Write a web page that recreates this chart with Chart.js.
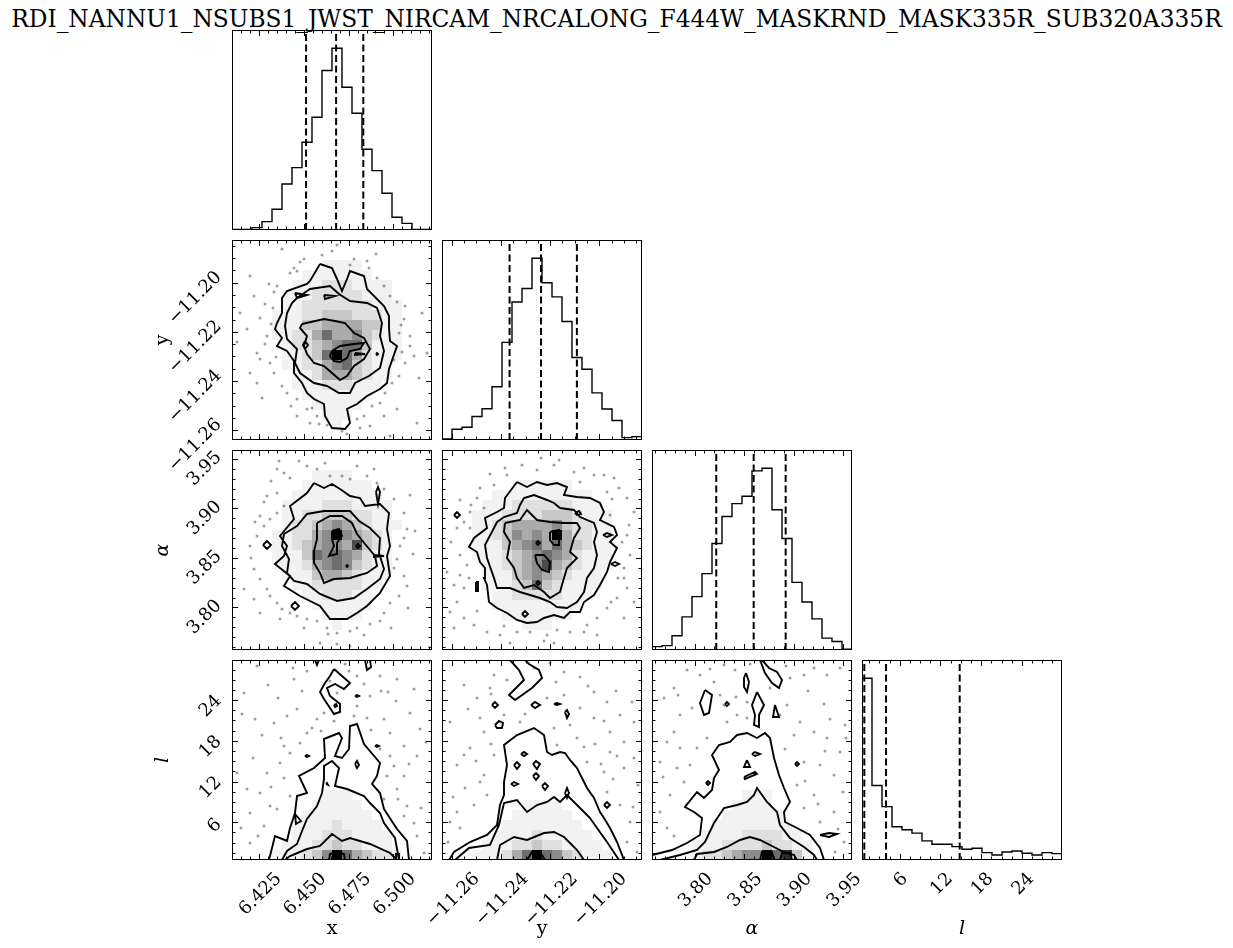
<!DOCTYPE html>
<html><head><meta charset="utf-8">
<script src="https://cdn.jsdelivr.net/npm/chart.js@4.4.1/dist/chart.umd.min.js"></script>
<style>
html,body{margin:0;padding:0;background:#fff;}
#wrap{position:relative;width:1233px;height:948px;overflow:hidden;background:#fff;}
#wrap canvas{position:absolute;left:0;top:0;}
#title{position:absolute;left:0;top:7px;width:1233px;text-align:center;font-family:"DejaVu Serif",serif;font-size:23.3px;line-height:23.3px;white-space:nowrap;color:#000;}
</style></head>
<body><div id="wrap"><div id="title">RDI_NANNU1_NSUBS1_JWST_NIRCAM_NRCALONG_F444W_MASKRND_MASK335R_SUB320A335R</div></div>
<script>
// ---------------- data ----------------
const RANGE_X = [6.4098, 6.5216];
const RANGE_Y = [-11.2640, -11.1826];
const RANGE_A = [3.757, 3.959];
const RANGE_L = [0.44, 29.9];

const TICKS_X = [6.425, 6.450, 6.475, 6.500];
const TICKS_Y = [-11.26, -11.24, -11.22, -11.20];
const TICKS_A = [3.80, 3.85, 3.90, 3.95];
const TICKS_L = [6, 12, 18, 24];
const TICKLABELS_X = ['6.425', '6.450', '6.475', '6.500'];
const TICKLABELS_Y = ['\u221211.26', '\u221211.24', '\u221211.22', '\u221211.20'];
const TICKLABELS_A = ['3.80', '3.85', '3.90', '3.95'];
const TICKLABELS_L = ['6', '12', '18', '24'];
const MINOR_X = 0.005, MINOR_Y = 0.005, MINOR_A = 0.01, MINOR_L = 1.5;
const TITLE_X = 'x', TITLE_Y = 'y', TITLE_A = '\u03b1', TITLE_L = 'l';

// 1D histograms (20 bins over the axis range)
const HIST_X = [2,2,7,25,62,138,187,263,338,478,545,428,350,242,178,110,38,20,2,2];
const HIST_Y = [3,32,38,70,93,158,290,410,450,540,467,425,352,245,210,140,92,58,7,10];
const HIST_A = [10,13,42,98,158,226,315,395,433,455,530,538,415,330,200,142,92,35,25,2];
const HIST_L = [542,222,159,99,90,80,57,47,47,40,32,35,22,15,24,27,20,15,22,19];

// 16/50/84 % quantiles
const Q_X = [6.4512, 6.4680, 6.4832];
const Q_Y = [-11.2365, -11.2237, -11.2091];
const Q_A = [3.8219, 3.8597, 3.8920];
const Q_L = [0.78, 3.98, 14.83];

// 2D histogram darkness (0-9), 20x20 bins, top row first
const Z = "00000000000000000000";
const DENS_XY = [Z,Z,
"00000000011110000000","00000001111111000000","00000011122211110000","00000111222221110000",
"00000112222222111000","00001112233322211000","00001113344443311000","00001122464453211000",
"00000122345663111000","00000112369642111000","00000112245632110000","00000011244432110000",
"00000011122211100000","00000001111111000000","00000000111110000000","00000000011100000000",
"00000000001000000000",Z];
const DENS_XA = [Z,Z,
"00000000111100000000","00000001111111000000","00000011111111100000","00000111122211110000",
"00000112233322110000","00000122345432111000","00001122459543210000","00001123455473210000",
"00001113656542110000","00001112456532110000","00000111344321110000","00000011222221100000",
"00000001122211000000","00000000111111000000","00000000011110000000","00000000001000000000",Z,Z];
const DENS_YA = [Z,Z,Z,
"00000001111110000000","00000111111111100000","00001112222221110000","00011122223332111000",
"00011234444532211000","00011235454942211000","00011134564643211000","00011123456542111000",
"00001123457432111000","00001113454321110000","00001112363211110000","00000112222211100000",
"00000111111111000000","00000011111110000000","00000000111000000000",Z,Z];
const DENS_XL = [Z,Z,Z,Z,Z,Z,Z,Z,Z,Z,Z,Z,Z,
"00000000011100000000","00000000111110000000","00000001111111000000","00000011112111100000",
"00000011122211110000","00000111223221110000","00001112359643221000"];
const DENS_YL = [Z,Z,Z,Z,Z,Z,Z,Z,Z,Z,Z,Z,Z,Z,
"00000000111100000000","00000001111110000000","00000011111111000000","00000111121111100000",
"00001112232211110000","00011124696532111000"];
const DENS_AL = [Z,Z,Z,Z,Z,Z,Z,Z,Z,Z,Z,Z,Z,
"00000000011100000000","00000000111100000000","00000001111110000000","00000011111111000000",
"00000111122221100000","00001112222322110000","00001223455968310000"];

// contours, in bin units (0-20) of each panel's 20x20 grid: [u,v,u,v,...]; first = outermost
const CNT_XY = [
 [8.8,17.6,10,17.2,10.5,16.1,11,14.9,11.5,16.1,11.8,16.9,13.2,16.4,13.5,15.1,15.2,13.4,15.7,12.4,15.7,11.2,15.8,9.9,16.5,9.4,15.7,7.1,15.5,5.7,14.8,5.1,13.5,4.4,12.5,3.6,11.5,3.1,11.8,1.7,11.3,1.1,10,1.2,9.3,2.4,9.2,3.6,8.2,4.1,7.5,4.7,7,5.7,6.2,6.7,6.2,7.9,5.5,8.9,4.5,9.4,5,10.2,4.3,11.1,4.5,11.7,5,12.7,5,14.2,5.5,14.9,7.5,15.6,7.8,15.9],
 [6.5,14.2,7.8,15.1,9.8,15.4,10.7,14.6,11.8,13.9,13.5,13.7,14.5,13.2,15,11.7,14.8,10.4,15.2,8.9,14.8,7.2,13.7,6.4,12.3,5.7,11.8,4.7,10.7,4.7,9.5,5.4,8.2,5.7,6.8,6.7,6.3,7.7,6.5,9.1,5.5,10.1,5.3,11.4,5.5,12.7,6,13.7],
 [7,11.6,9.2,12.1,10.3,11.9,11.3,11.7,12.2,10.7,13.2,10.2,13.8,9.1,13.2,8.1,12.2,7.4,11.5,6.4,10.8,6,10,6.7,9.2,7.4,8.2,7.7,7.5,8.6,7.2,9.4,7.5,10.4,6.8,11.2],
 [10,8.9,10.8,9.4,12.2,9.6,13.2,9.7,12.8,9.1,11.8,8.9,11.5,8.2,10.8,7.8,10.2,7.9,9.8,8.4],
 [6.3,14.7,7.5,14.5,6.5,14.2],
 [9.2,14.5,10.3,14.4,9.3,14.1],
 [7.3,9.9,7.6,9.5,7.3,9.1,7.1,9.5],
 [12.3,8.7,13.3,8.6,12.3,8.5],
 [14.4,8.6,14.5,8.7,14.6,8.6,14.5,8.5]
];
const CNT_XA = [
 [8.2,16.7,9.2,16.2,10,16.6,10.8,16.1,11.8,15.4,12.8,15.2,13.3,14.4,14.8,14.6,15.7,13.7,15.5,12.1,15.8,10.4,15.5,9.4,15.8,7.4,14.8,5.7,13.5,4.4,12.5,3.7,11.5,3.1,9.8,3.1,8.8,4.4,6.8,5.4,5.2,6.4,5.8,7.4,4.3,8.6,5.2,9.4,5.5,10.4,4.8,11.4,6.2,13.1,5.8,14.4,7.5,15.7],
 [5.2,11.6,6.5,12.4,7.5,13.6,9.2,13.9,11.8,13.9,12.7,12.9,13.8,12.2,14.8,11.2,14.7,9.7,15.2,8.1,14.8,7.1,13.5,6.1,12.2,5.2,10.5,4.9,8.8,5.6,7.5,6.6,6.2,6.9,5.5,7.7,5.7,9.1,5,10.4],
 [8.5,12.7,9.8,13.4,11,13.4,12,12.7,12.5,11.6,13.3,10.6,14.3,9.4,14.5,8.4,13.5,7.7,11.8,7.2,10.2,7.1,9.2,6.7,8.8,7.7,8.2,8.7,8.2,9.9,8.5,11.1],
 [10,11.9,10.7,12.1,11,11.4,10.5,10.7,10.5,9.6,9.7,9.4,10.2,10.4,10,11.1],
 [3.1,10.5,3.5,10.9,3.9,10.5,3.5,10.1],
 [5.9,4.4,6.3,4.8,6.7,4.4,6.3,4],
 [14.4,15.8,14.6,16.3,14.8,15.8,14.6,14.6],
 [12.4,10.4,12.6,10.6,12.8,10.4,12.6,10.2],
 [14.2,9.5,15.2,9.4,14.2,9.3],
 [11.4,8.4,11.5,8.5,11.6,8.4,11.5,8.3]
];
const CNT_YA = [
 [7.5,16.8,8.5,16.3,9.5,16.8,10.5,16.5,11.5,16.7,12.5,16.3,12.2,15.5,13.5,15.3,14.8,15.2,15.8,14.7,16.2,13.8,15.8,13,17.2,12.3,17.5,11.5,16.8,10.8,17.5,10.2,16.8,8.8,16.5,7.8,15.8,6.5,15.2,5.5,14.2,4.8,13.8,3.8,12.8,3.8,12.2,3.2,11.2,3.5,10.2,3.2,9.5,2.8,8.5,2.7,7.5,3,6.5,3.7,5.5,4.2,4.7,4.8,4.5,6.5,4.2,7.2,4.3,8.2,3.8,8.8,3.5,9.8,2.7,10.3,3.2,11.2,4.5,12.2,4.3,13.2,5.5,13.8,6.2,14.2,6.3,15.2],
 [5.5,12.8,6.2,13.3,7.5,13.7,7.8,14.5,8.2,15.2,9.2,15.5,10.5,15,11.2,14.7,11.8,14.2,13.2,14,13.8,13.3,15.2,12.7,15.5,11.8,15.2,10.8,15.5,9.5,15.2,8.2,14.5,7.2,14.2,5.8,13.5,4.8,12.5,4.2,11.5,4.3,10.8,4.8,9.8,5.2,7.8,5.8,6.8,6.2,5.5,6.2,5.2,7.2,4.5,9.2,4.3,10.5,5.2,12.2],
 [6.3,12.7,7.8,13,8.5,14,9.5,13,10.8,12.8,12.2,12.7,13.5,12.7,13.8,12.2,13.2,11.2,12.8,9.8,13.5,9.2,12.5,8.2,12.2,7.2,11.8,5.8,10.8,5.2,10.2,5.8,9.2,6.5,8.2,6.2,7.5,7.2,7.2,8.2,6.5,9.2,6.8,10.8,6.2,11.8],
 [10.8,11.8,11.7,12,11.7,10.5,11.2,10.5,10.8,11],
 [9.3,9.5,10.2,9.5,10.8,8.8,10.7,7.8,10,8,9.5,8.7],
 [1.2,13.5,1.5,13.8,1.8,13.5,1.5,13.2],
 [13.3,13.7,13.7,13.9,13.9,13.6,13.5,13.5],
 [16.1,11.5,16.5,11.7,17,11.5,16.5,11.3],
 [16.9,8.6,17.3,8.8,17.7,8.6,17.3,8.4],
 [3.4,6.8,3.6,6.8,3.6,5.9,3.4,5.9],
 [8,3.6,8.3,3.9,8.6,3.6,8.3,3.3],
 [9.4,10.7,9.6,10.9,9.8,10.7,9.6,10.5],
 [9.4,6.7,9.6,6.9,9.8,6.7,9.6,6.5]
];
const CNT_XL = [
 [3.7,0,4.3,2.4,5.5,1.9,5.8,3.2,6.3,4.7,6.5,6.4,7.5,6.7,6.7,8.4,8.2,9.2,9.3,10.2,9.2,12.1,10.7,12.7,11,12.2,10.3,10.4,11,10.2,11.7,11.1,11.8,13.4,12.5,13.6,13.2,11.6,14.8,9.7,14.5,8.4,14,7.6,14.8,6.7,15.2,5.1,16.5,3.1,17.5,1.9,17.7,0],
 [5,0,5.5,0.9,6.5,1.6,7,2.9,7.5,4.1,8.5,5.4,9,6.7,9.2,8.1,9.2,9.4,10,9.9,10.7,9.2,10.3,7.4,11.5,7.1,13.2,6.4,13.8,5.7,14.8,4.7,15.2,3.7,16.3,2.2,16.7,0],
 [5.3,0,5.8,0.4,7.5,1.1,8.8,1.4,10,2.6,11,1.9,11.8,2.2,13.8,1.6,15.8,0.7,16.5,0],
 [9.7,0,9.8,0.6,10.5,0.8,11.2,0.6,11.3,0],
 [10.2,19.1,11.8,17.7,11.2,17.1,10.3,17.6,9.5,17.2,9.8,16.4,10.8,15.6,10.8,14.8,10.2,14.6,9.2,16.1,8.8,16.8,9.3,17.7,9.8,18.4],
 [8.3,20,8.5,19.5,8.7,20],
 [13.3,20,13.5,19,13.9,19.3,13.8,20],
 [10.2,15.5,10.4,15.6,10.5,15.4,10.3,15.3],
 [9.4,7.6,9.5,7.7,9.6,7.5],
 [12.3,9.6,12.5,9.9,12.7,9.5,12.5,9.2],
 [14.3,11.4,14.5,11.5,14.7,11.4,14.5,11.3],
 [7.3,10.4,7.5,10.5,7.7,10.4,7.5,10.3],
 [12.3,16.4,12.5,16.5,12.7,16.4,12.5,16.3],
 [6.3,4.6,6.9,3.9,6.4,3.6],
 [16.4,0,16.4,0.6,16.7,0.6,16.7,0]
];
const CNT_YL = [
 [0.7,0,1.2,0.8,2.8,1.8,4.5,2.5,5.5,3.5,5.8,5.5,6.2,6.5,6.2,7.8,6.5,9.5,6.2,11.5,7.5,12.5,9.2,13.2,10.2,12.5,10.5,10.8,11,10.5,11.8,10.8,12.3,10.7,12.8,10,13.5,9.2,14.2,7.8,14.5,7.2,15.2,6.2,15.8,4.8,16.2,4.2,16.8,3.2,17.5,1.8,18.2,0],
 [1.3,0,2.7,1.2,4.8,1.5,5.7,3.5,6.2,5.7,7.5,6,8.5,4.8,9.5,5.5,10.5,5.8,11.2,6.3,11.8,5.8,12.5,6.5,13.5,5.5,14.2,4.8,14.8,4.2,15.5,3.2,16.5,1.8,17.7,0],
 [5.5,0,5.8,1.5,7.2,2.3,8.5,2,10.2,2.7,11.2,2.8,12.2,2.3,12.8,1.7,13.5,1,14.2,0],
 [8.5,0,9,0.8,9.8,0.8,10.3,0],
 [6.8,20,7.7,19,8.2,18,6.7,16.5,7.3,16,9,17.2,10,18.2,9.7,19,8.7,19.6,8.3,20],
 [5,15.5,5.3,15.8,5.6,15.5,5.3,15.2],
 [8.9,15.5,9.3,15.8,9.8,15.5,9.3,15.2],
 [11.2,15.6,11.5,15.7,11.8,15.6,11.5,15.5],
 [12.3,14.8,12.5,15,12.7,14.6,12.5,14.2],
 [5.3,13.5,5.7,13.9,6.1,13.7,6,13.2,5.5,13.2],
 [7.9,10.6,8.2,10.8,8.5,10.6,8.2,10.4],
 [7.2,9.5,7.5,9.8,7.8,9.5,7.5,9.1],
 [9.1,9.6,9.4,9.9,9.8,9.6,9.5,9.1],
 [9.1,8.4,9.4,8.7,9.7,8.4,9.4,8],
 [6.9,7.6,7.2,7.8,7.6,7.6,7.2,7.4],
 [10,7.4,10.3,7.7,10.6,7.4,10.3,7],
 [12.3,6.7,12.5,7.2,12.7,6.7,12.5,6.2],
 [16.2,5.5,16.5,5.8,16.8,5.5,16.5,5.2]
];
const CNT_AL = [
 [0,0.5,2,1,3.5,1.7,4.8,2.5,5,4.2,4.2,4.8,3.3,5.3,4.5,6.8,5.2,6.2,6,7,6.2,8.2,6.7,9,6,10.5,6.7,11.5,7.8,11.8,8.5,12.5,9.5,12.7,10.5,12.2,11.3,12.7,11.8,12.2,12.2,10.2,12.7,8.5,13.2,7.2,13.8,5.8,13.2,4.8,13.3,3.8,14.3,3.3,15.8,2.5,16.8,1.2,17.2,0],
 [0.8,0,2.8,0.5,4.5,1,5.3,1.8,6.2,3.7,7.2,5.2,8.5,5.5,9.5,5.8,10.2,6.5,10.5,7.2,11.5,5.8,12.5,4.8,12.8,3.5,13.8,2.2,15.2,1.3,16.2,0.5,16.5,0],
 [4.2,0,4.5,0.6,6.2,0.8,7.5,1.3,8.8,2,9.8,2.3,10.8,2,11.8,1.5,13.2,0.8,14.2,0.5,14.5,0],
 [10.8,0,11,0.8,12,0.8,12.2,0],
 [12.8,0,13,0.7,13.8,0.7,14,0],
 [5.3,17,6,16.5,5.7,14.7,5.2,14.5,4.8,15.7],
 [9.4,18.7,9.7,17.8,9.5,16.8,9.2,17.3,9.2,18.2],
 [10.5,16.8,11.2,15.5,10.7,14.5,10.7,13.3,10.2,13.5,10.3,14.5,10,15.5],
 [11,20,11.7,19.2,12.5,18.8,13,18,12.7,17.2,12,17.7,11.3,18.7,10.8,20],
 [12.3,15.5,12.7,14.3,12.1,14.3],
 [9.5,10,9.8,9.3,9.2,9.3],
 [10,10.6,10.3,10.8,10.8,10.6,10.3,10.4],
 [9.2,8.3,10.3,8.8,10.5,8.6,9.3,8.1],
 [16.8,2.5,17.7,2.7,18.5,2.6,17.7,2.3],
 [7.3,15.6,7.5,15.8,7.7,15.6,7.5,15.4],
 [5.4,7.7,5.6,7.9,5.8,7.7,5.6,7.5],
 [14.3,9.6,14.5,9.8,14.7,9.6,14.5,9.4]
];

// individual samples outside the contours, bin units [u,v,...]
const PTS_XY = [5,19.1,10,18.9,7.2,18.1,6.2,17.2,6.5,16.9,5.8,16.7,12.2,18.1,13.7,17.2,13.5,17.9,3.7,15.6,4.5,15.4,3.3,13.6,2.8,12.2,1.5,11.1,3.5,10.4,3.3,9.6,2.5,8.7,2.8,8.1,0.8,12.7,3.8,7.7,4.2,6.7,5,5.4,5.5,4.7,6.5,4.1,7.5,3.1,8.5,2.4,8.7,1.6,11,0.9,11.5,0.6,12.5,2.1,13.2,2.4,14,3.4,14.8,3.7,15.3,4.7,16,5.7,16.7,6.4,17.3,7.7,18.2,8.4,19.5,8.7,17.8,9.4,17.3,13.4,17.2,12.1,17.8,10.4,16.7,10.7,15.2,15.4,15.8,14.4,12.2,16.4,1.8,16.4,16.5,3.1,18.5,1.7,15.8,0.4,13.8,1.4,7.8,1.7,6.5,2.4,2.5,5.7,1.8,6.7,4.2,14.8,6.8,17.8,9,18.5,11.8,17.5,14.5,16.2,16.5,13.8,16.9,11.5,17,8.8,16.2,8,15.2,2.4,12.8,1.2,9.5,1.5,8,3.2,5.9,3.4,4.4,8.3,3.9,11.6,4.1,13.2,2.2,14.4,19,12.7,18.7,6.2,3,4.2,10.5,19.5,14.4,18.6,0.5,9.8];
const PTS_XA = [4.7,18.9,4.5,18.1,5.2,17.7,5.8,17.2,7.5,18.4,8.5,18.1,9.8,17.4,11,17.4,11.8,17.1,12.5,18.4,13.5,17.4,14.5,16.7,15.2,16.1,16.2,15.1,17.2,13.7,17.5,12.1,17.2,11.2,16.8,10.4,16.5,9.1,16.2,8.2,17.2,7.4,17.5,6.4,16.7,5.4,15.8,4.7,15.2,3.7,14.8,2.9,13.8,2.6,12.5,2.2,11.8,1.9,10.5,1.7,9.5,2.2,8.5,2.9,7.5,3.1,6.5,3.4,5.8,3.7,5,4.1,4.5,4.7,3.8,5.4,3.5,6.1,2.8,7.1,2.2,8.1,1.8,10.4,2.5,11.4,3.2,12.4,3.8,13.1,4.5,13.7,5.2,14.4,4.5,15.7,3.5,15.4,2.8,13.4,1.2,6.1,2.8,3.7,11.8,0.4,10.5,0.6,8.8,0.7,3.9,16.9,6.7,18.9,9.3,18.7,14.2,18.1,17.8,15.5,18.3,11.9,18.1,9.6,17.6,4.2,15.9,2.2,13.2,1.5,9.6,1.6,7.2,2.2,4.8,3.1,2.2,5.1,1.9,9.2,2.3,12.8,3.2,14.8];
const PTS_YA = [6.3,18.2,6.5,17.5,8,18.5,9.5,18,11.2,18.5,11.7,19,13.2,17.8,14.2,18.2,15.2,17.5,16.2,17.5,17.2,17.2,17.7,16.2,18.5,15.2,19.2,13.8,18.7,12.5,18.8,9.5,18.2,8.2,18.2,7.2,18.5,6.2,17.5,5.2,16.5,4.2,15.5,3.2,14.5,2.5,12.8,1.8,11.5,2,10.5,1.5,8.8,1.8,7.5,1.8,5.8,1.5,4.5,1.8,3.2,2.5,2.2,3.2,1.2,2.2,0.8,3.8,1.5,4.8,2.2,6.2,2.7,7.2,2.5,8.5,1.8,9.5,2.8,12.2,2.2,12.8,1.5,12.2,1.8,15,3.5,15.2,3.8,16.2,5.2,16.5,2.8,13.8,4.2,14.2,16.5,15.8,16.8,13.5,18,10.8,1.2,6.5,0.5,7.8,19.2,4.8,18.2,3.2,15.5,1.5,6.8,0.7,11.2,0.7,4.8,17.6,9.9,19.2,13.8,16.8,17,15.1,18.5,11.5,17.6,7.2,16.9,4.8,14.2,1.8,10.2,0.9,6.2,2.4,3.5,3.9,1.8,7.5,0.9,10.8,2.9,14.5];
const PTS_XL = [2.5,19.4,6.2,18.1,7.5,18.9,8.5,19.6,11.3,19.6,12.5,18.4,14.8,18.4,16.5,18.1,18.2,17.1,1.2,16.7,2.3,14.1,4.2,13.7,5.5,14.4,6.5,15.1,7.5,12.7,8.5,14.1,9.2,14.7,12.5,15.4,13.5,14.2,15.2,14.1,15.8,12.7,17.2,11.4,18.5,10.4,16.2,9.4,15.5,8.4,16.5,7.1,17.5,5.4,18.2,3.7,18.5,2.4,19.2,0.7,3.5,8.7,4.8,9.7,5.8,10.7,6.8,11.7,7.5,10.4,2.8,6.7,3.8,5.4,3.2,3.4,1.8,1.7,5.2,11.4,13.8,16.4,10.5,16.7,12.2,14.4,10.2,13.9,14.8,11.1,13.5,10.1,17.2,8.4,15.8,10.4,5.8,6.4,4.5,5.1,1.8,4.7,1.5,7.1,0.5,8.7,17.8,14.7,18.8,13.1,15.2,6.1,17.2,4.4,3.6,17.5,9.8,17.9,15.6,16.8,4.9,12.2,8,13.2,13.2,17.6,3,12.5,4.6,16.2,7,16.9,8.9,12.9,12,12,13.9,13,16.4,15.9,17.7,9.6,16.6,6.1,18.9,5.2,1,14.6,2.1,10.2,3.9,7.3,0.9,3.2,2.6,2.4,19.4,11.8,14.9,16.9,11.7,18.9,6.1,19.2,5.2,8.2];
const PTS_YL = [2.2,17.5,5.2,18.5,6.5,18,9.2,19.2,10.8,19.7,12.2,18.8,13.8,18.3,15.2,16.8,16.5,15.8,17.8,14.5,19.2,13.8,18.2,11.8,16.8,10.8,19.2,10.2,18.2,9.2,16.2,8.8,14.5,9.8,13.5,12.2,12.8,13.5,11.2,13.2,3.8,14.2,4.2,12.8,2.8,11.2,2.2,10.5,1.5,9.5,3.8,7.8,4.5,6.5,3.2,5.5,1.5,4.8,0.8,3.8,1.8,3.2,4.2,8.5,5.2,10.5,15.2,14.2,16.5,6.8,17.8,5.5,18.8,3.8,19.5,0.8,18.5,1.8,16.8,12.8,12.2,16.5,13.8,15.2,6.2,14.5,7.8,13.8,3.5,16.2,0.8,13.8,11.5,11.5,10.8,9.5,14.2,11.3,4.8,17.2,2.6,15.1,4.9,16.6,8.3,14.6,10.5,16.2,14.6,17.4,17.4,16.9,19,15.8,17.5,10.4,15.3,11.6,19.6,7.5,17.1,8.1,15.9,9.6,2.3,7.2,3.4,9.9,1.1,6.3,4.9,11.6,0.6,1.8,19.1,5.3,16.2,13.9,11.4,17.8];
const PTS_AL = [3.5,19,4.8,18.5,6.2,17.8,7.2,19.5,8.3,19,13.8,18.2,15.2,18.5,16.2,19.2,17.5,18.5,18.8,19.2,2.8,14.5,4,15.2,7.2,15.5,7.5,13.8,8.5,14.5,9.5,15.8,13.5,15.5,14.8,13.8,16.2,12.8,17.5,12.2,18.8,10.8,15.2,9.8,16.8,9.5,18.2,8.5,14.5,7.5,16.2,6.5,18.2,4.8,16.8,3.8,15.2,5.2,2.2,12.8,1.5,11.8,0.8,9.8,2.5,9.2,3.2,7.8,1.8,6.5,0.8,4.8,1.5,3.2,3.8,9.5,4.5,11.2,5.5,12.2,5.5,7.7,19.2,1.8,18.3,0.8,9.5,14.2,14.2,12.5,12.8,14.5,2.2,17.2,11.8,17.2,6.8,16.5,17.2,15.6,19.3,13.5,1.2,16.2,2.6,16.5,5.8,19.1,9.8,19.6,13.4,19.4,15.6,16.9,17.8,14.1,19.4,12.2,17.3,10.9,19.1,6.8,16.6,5.6,15.3,7.9,13.3,11.1,2.8,11.2,1.1,8.3,3.5,5.6,2.2,2.4,8.4,16.3,11.1,11.4,7.6,10.2,18.6,3.1];

// ---------------- rendering ----------------
const W = 1233, H = 948;
const PANEL_LEFT = [232, 442, 652, 862];
const PANEL_TOP = [30, 240, 450, 660];
const PANEL_SIZE = 200;
const FONT_FAMILY = '"DejaVu Serif", serif';
const TICK_FONT_PX = 18;
const LEVEL_ALPHA = [0, 0.05, 0.12, 0.22, 0.33, 0.45, 0.57, 0.70, 0.82, 1.0];

const AXES = {
  x: {range: RANGE_X, ticks: TICKS_X, labels: TICKLABELS_X, minor: MINOR_X, title: TITLE_X, italic: false, hist: HIST_X, q: Q_X},
  y: {range: RANGE_Y, ticks: TICKS_Y, labels: TICKLABELS_Y, minor: MINOR_Y, title: TITLE_Y, italic: false, hist: HIST_Y, q: Q_Y},
  a: {range: RANGE_A, ticks: TICKS_A, labels: TICKLABELS_A, minor: MINOR_A, title: TITLE_A, italic: true, hist: HIST_A, q: Q_A},
  l: {range: RANGE_L, ticks: TICKS_L, labels: TICKLABELS_L, minor: MINOR_L, title: TITLE_L, italic: true, hist: HIST_L, q: Q_L}
};
const VARS = ['x', 'y', 'a', 'l'];
const PANEL2D = {
  '1,0': {dens: DENS_XY, cnt: CNT_XY, pts: PTS_XY},
  '2,0': {dens: DENS_XA, cnt: CNT_XA, pts: PTS_XA},
  '2,1': {dens: DENS_YA, cnt: CNT_YA, pts: PTS_YA},
  '3,0': {dens: DENS_XL, cnt: CNT_XL, pts: PTS_XL},
  '3,1': {dens: DENS_YL, cnt: CNT_YL, pts: PTS_YL},
  '3,2': {dens: DENS_AL, cnt: CNT_AL, pts: PTS_AL}
};

function gridToData(u, r) { return r[0] + u * (r[1] - r[0]) / 20; }
function onEdge(u, v) { return u <= 0 || u >= 20 || v <= 0 || v >= 20; }
function loopPoints(loop, rx, ry) {
  const pts = [];
  for (let k = 0; k < loop.length; k += 2) pts.push({x: gridToData(loop[k], rx), y: gridToData(loop[k + 1], ry)});
  const n = loop.length;
  if (!(onEdge(loop[0], loop[1]) && onEdge(loop[n - 2], loop[n - 1]))) pts.push({x: pts[0].x, y: pts[0].y});
  return pts;
}
function contourData(loops, rx, ry) {
  const out = [];
  loops.forEach((lp, i) => { if (i) out.push({x: null, y: null}); out.push(...loopPoints(lp, rx, ry)); });
  return out;
}
function cellData(rows, rx, ry) {
  const out = [];
  rows.forEach((row, r) => {
    for (let c = 0; c < row.length; c++) {
      const d = +row[c];
      if (d > 0) out.push({x: gridToData(c + 0.5, rx), y: gridToData(19.5 - r, ry), d: d});
    }
  });
  return out;
}
function ptsData(arr, rx, ry) {
  const out = [];
  for (let k = 0; k < arr.length; k += 2) out.push({x: gridToData(arr[k], rx), y: gridToData(arr[k + 1], ry)});
  return out;
}
function histData(counts, r) {
  const n = counts.length, step = (r[1] - r[0]) / n;
  const pts = counts.map((c, i) => ({x: r[0] + i * step, y: c}));
  pts.push({x: r[1], y: counts[n - 1]});
  return pts;
}
function tickList(ax) {
  const out = ax.ticks.map(v => [v, true]);
  const r = ax.range, m = ax.minor;
  const k0 = Math.ceil(r[0] / m - 1e-6), k1 = Math.floor(r[1] / m + 1e-6);
  for (let k = k0; k <= k1; k++) {
    const v = k * m;
    if (!ax.ticks.some(t => Math.abs(t - v) < m * 0.01)) out.push([v, false]);
  }
  return out;
}

Chart.register({
  id: 'whiteFill',
  beforeDatasetDraw(chart, args) {
    const ds = chart.data.datasets[args.index];
    if (!ds.whiteFill) return;
    const ctx = chart.ctx, a = chart.chartArea;
    ctx.save();
    ctx.beginPath(); ctx.rect(a.left, a.top, a.right - a.left, a.bottom - a.top); ctx.clip();
    ctx.beginPath();
    let first = true;
    for (const el of args.meta.data) {
      if (el.skip) { ctx.closePath(); first = true; continue; }
      if (first) { ctx.moveTo(el.x, el.y); first = false; } else ctx.lineTo(el.x, el.y);
    }
    ctx.closePath();
    ctx.fillStyle = '#ffffff';
    ctx.fill();
    ctx.restore();
  }
});

function framePlugin(row, col, isHist) {
  return {
    id: 'frame',
    afterDraw(chart) {
      const ctx = chart.ctx, a = chart.chartArea, sx = chart.scales.x, sy = chart.scales.y;
      const xa = AXES[VARS[col]], ya = AXES[VARS[row]];
      ctx.save();
      ctx.strokeStyle = '#000'; ctx.lineWidth = 1;
      ctx.strokeRect(a.left + 0.5, a.top + 0.5, a.right - a.left - 1, a.bottom - a.top - 1);
      tickList(xa).forEach(([v, major]) => {
        const p = Math.round(sx.getPixelForValue(v)) + 0.5, len = major ? 6 : 3.5;
        ctx.beginPath();
        ctx.moveTo(p, a.bottom); ctx.lineTo(p, a.bottom - len);
        ctx.moveTo(p, a.top); ctx.lineTo(p, a.top + len);
        ctx.stroke();
      });
      if (!isHist) {
        tickList(ya).forEach(([v, major]) => {
          const p = Math.round(sy.getPixelForValue(v)) + 0.5, len = major ? 6 : 3.5;
          ctx.beginPath();
          ctx.moveTo(a.left, p); ctx.lineTo(a.left + len, p);
          ctx.moveTo(a.right, p); ctx.lineTo(a.right - len, p);
          ctx.stroke();
        });
      }
      ctx.fillStyle = '#000';
      const fs = TICK_FONT_PX, h = fs * 0.73;
      ctx.font = fs + 'px ' + FONT_FAMILY;
      const rot = (t, cx, cy) => {
        ctx.save(); ctx.translate(cx, cy); ctx.rotate(-Math.PI / 4);
        ctx.textAlign = 'center'; ctx.textBaseline = 'alphabetic';
        ctx.fillText(t, 0, h / 2); ctx.restore();
      };
      if (row === 3) {
        xa.ticks.forEach((v, k) => {
          const t = xa.labels[k], w = ctx.measureText(t).width, bb = (w + h) * Math.SQRT1_2;
          rot(t, sx.getPixelForValue(v), a.bottom + 10 + bb / 2);
        });
        ctx.save();
        ctx.font = (xa.italic ? 'italic ' : '') + '19px ' + FONT_FAMILY;
        ctx.textAlign = 'center'; ctx.textBaseline = 'middle';
        ctx.fillText(xa.title, (a.left + a.right) / 2, 929);
        ctx.restore();
      }
      if (col === 0 && row > 0) {
        ya.ticks.forEach((v, k) => {
          const t = ya.labels[k], w = ctx.measureText(t).width, bb = (w + h) * Math.SQRT1_2;
          rot(t, a.left - 10 - bb / 2, sy.getPixelForValue(v) + 0.21 * w);
        });
        ctx.save();
        ctx.font = (ya.italic ? 'italic ' : '') + '19px ' + FONT_FAMILY;
        ctx.translate(163, (a.top + a.bottom) / 2); ctx.rotate(-Math.PI / 2);
        ctx.textAlign = 'center'; ctx.textBaseline = 'middle';
        ctx.fillText(ya.title, 0, 0);
        ctx.restore();
      }
      ctx.restore();
    }
  };
}

function baseOptions(row, col, xr, yr) {
  return {
    responsive: false, animation: false, devicePixelRatio: 1, events: [],
    layout: {padding: {left: PANEL_LEFT[col], top: PANEL_TOP[row],
      right: W - PANEL_LEFT[col] - PANEL_SIZE, bottom: H - PANEL_TOP[row] - PANEL_SIZE}},
    plugins: {legend: {display: false}, tooltip: {enabled: false}, title: {display: false}},
    scales: {
      x: {type: 'linear', display: false, min: xr[0], max: xr[1]},
      y: {type: 'linear', display: false, min: yr[0], max: yr[1]}
    }
  };
}

const wrap = document.getElementById('wrap');
function newCtx() {
  const c = document.createElement('canvas');
  c.width = W; c.height = H;
  c.style.width = W + 'px'; c.style.height = H + 'px';
  wrap.appendChild(c);
  return c.getContext('2d');
}

for (let row = 0; row < 4; row++) {
  for (let col = 0; col <= row; col++) {
    const ctx = newCtx();
    if (row === col) {
      const ax = AXES[VARS[col]];
      const ymax = Math.max(...ax.hist) * 1.1;
      const datasets = [{
        data: histData(ax.hist, ax.range), showLine: true, stepped: true,
        borderColor: '#000', borderWidth: 1.4, pointRadius: 0, fill: false
      }];
      ax.q.forEach(q => datasets.push({
        data: [{x: q, y: 0}, {x: q, y: ymax}], showLine: true,
        borderColor: '#000', borderWidth: 2, borderDash: [7, 3.5], pointRadius: 0, fill: false
      }));
      new Chart(ctx, {type: 'scatter', data: {datasets}, options: baseOptions(row, col, ax.range, [0, ymax]),
        plugins: [framePlugin(row, col, true)]});
    } else {
      const xr = AXES[VARS[col]].range, yr = AXES[VARS[row]].range;
      const P = PANEL2D[row + ',' + col];
      const datasets = [
        {label: 'contours', data: contourData(P.cnt, xr, yr), showLine: true, spanGaps: false,
         borderColor: '#000', borderWidth: 1.9, pointRadius: 0, fill: false, tension: 0},
        {label: 'density', data: cellData(P.dens, xr, yr), showLine: false, pointStyle: 'rect',
         pointBorderWidth: 0,
         pointRadius: c => { const s = c.chart.scales.x; return Math.abs(s.getPixelForValue(s.min + (s.max - s.min) / 20) - s.getPixelForValue(s.min)) / Math.SQRT2; },
         pointBackgroundColor: c => 'rgba(0,0,0,' + (c.raw ? LEVEL_ALPHA[c.raw.d] : 0) + ')'},
        {label: 'fill', data: loopPoints(P.cnt[0], xr, yr), showLine: false, pointRadius: 0, whiteFill: true},
        {label: 'samples', data: ptsData(P.pts, xr, yr), showLine: false, pointRadius: 1.5,
         pointBorderWidth: 0, pointBackgroundColor: 'rgba(0,0,0,0.38)'}
      ];
      new Chart(ctx, {type: 'scatter', data: {datasets}, options: baseOptions(row, col, xr, yr),
        plugins: [framePlugin(row, col, false)]});
    }
  }
}
</script>
</body></html>
